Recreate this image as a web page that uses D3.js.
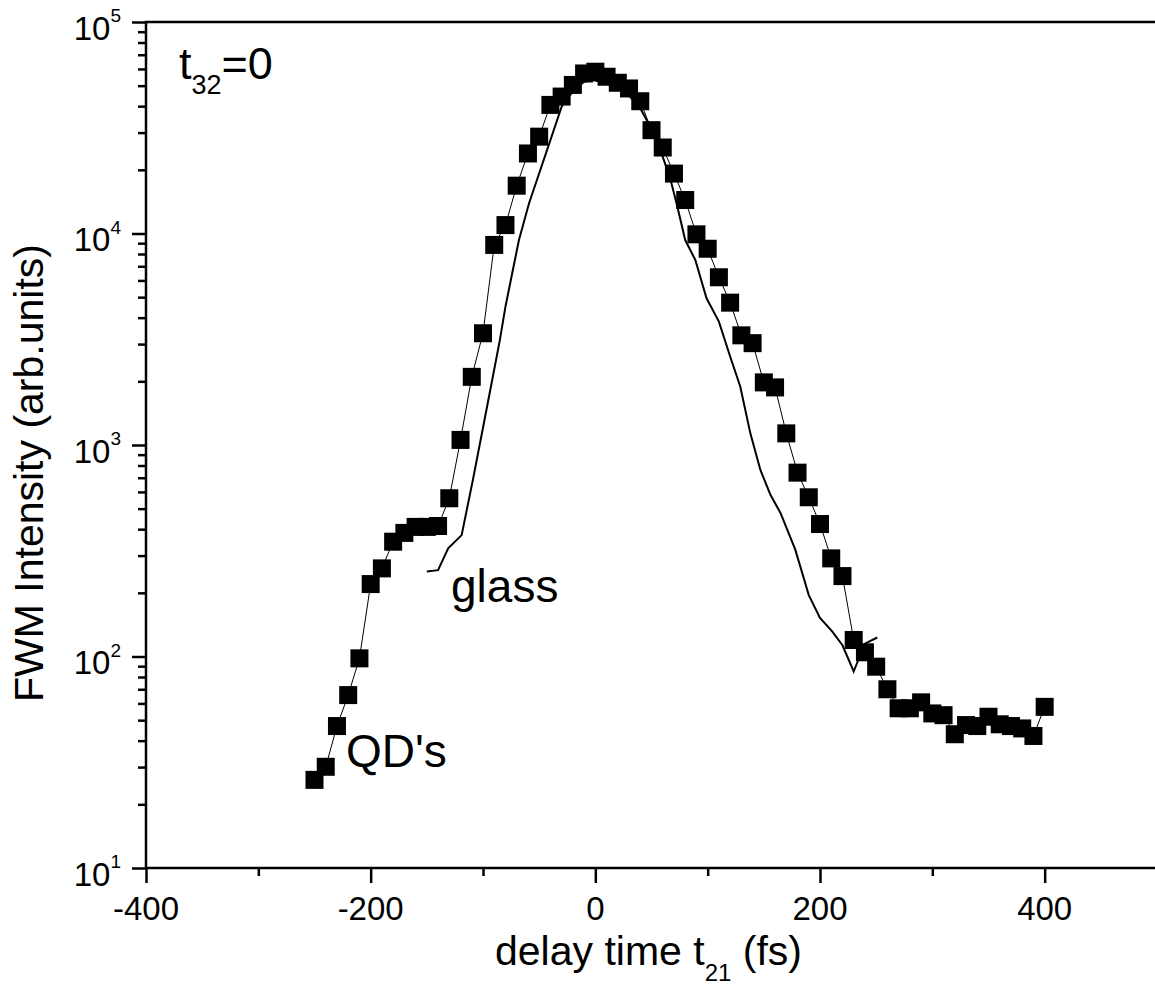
<!DOCTYPE html>
<html>
<head>
<meta charset="utf-8">
<script src="https://cdn.jsdelivr.net/npm/d3@7"></script>
<style>
  body { margin: 0; background: #fff; }
  text { font-family: "Liberation Sans", Arial, sans-serif; fill: #000; }
</style>
</head>
<body>
<div id="chart"></div>
<script>
// QD's data (squares), delay t21 in fs
var qdT = [-250, -240, -230, -220, -210, -200, -190, -180, -170, -160, -150, -140, -130, -120, -110, -100,
           -90, -80, -70, -60, -50, -40, -30, -20, -10, 0, 10, 20, 30, 40, 50, 60, 70, 80, 90, 100,
           110, 120, 130, 140, 150, 160, 170, 180, 190, 200, 210, 220, 230, 240, 250, 260, 270, 280,
           290, 300, 310, 320, 330, 340, 350, 360, 370, 380, 390, 400];
var qdV = [26.1, 30.1, 46.9, 65.7, 98, 220, 261, 349, 384, 410, 410, 414, 560, 1057, 2100, 3375,
           8830, 10960, 16830, 23900, 28700, 40550, 44400, 50400, 57100, 58200, 55100, 51600, 48500, 42200, 30800, 25500, 19200, 14400, 9910, 8470,
           6210, 4710, 3300, 3030, 1977, 1872, 1135, 740, 566, 423, 291, 240, 119.7, 104.7, 89.5, 70, 56.9, 56.9,
           60.7, 53.8, 52.8, 42.9, 47.4, 46.9, 51.9, 47.8, 46.9, 45.7, 42.1, 57.8];

// glass reference (solid line)
var glassT = [-150, -140, -131, -119, -109, -97, -85, -80, -74, -68, -59, -52, -43, -30, -19, -10, -2,
              10, 22, 31, 40, 49, 58, 67, 73, 80, 89, 99, 110, 120, 129, 138, 147, 156, 165, 178, 190,
              200, 211, 220, 230, 234, 240, 251];
var glassV = [252, 256, 325, 375, 684, 1460, 3130, 4510, 6490, 9310, 13900, 17900, 24800, 39800, 47700, 52200, 53200,
              51300, 47700, 44300, 39100, 32000, 24800, 17900, 13400, 9310, 7500, 4940, 3830, 2620, 1890, 1135, 760, 580, 475, 320, 195,
              152, 131, 113, 85, 96, 115, 123];

var xMajor = [-400, -200, 0, 200, 400];
var xMinor = [-300, -100, 100, 300];
var yMajor = [10, 100, 1000, 10000, 100000];
var yExp = ["1", "2", "3", "4", "5"];

var W = 1155, H = 985;
var svg = d3.select("#chart").append("svg")
    .attr("width", W).attr("height", H);

var x = d3.scaleLinear().domain([-400, 500]).range([146, 1157]);
var y = d3.scaleLog().domain([10, 100000]).range([868, 22]);

// minor y ticks 2..9 per decade
var yMinor = [];
yMajor.slice(0, -1).forEach(function(d) {
  for (var k = 2; k <= 9; k++) yMinor.push(d * k);
});

// x axis ticks
svg.append("g")
  .attr("transform", "translate(0,868)")
  .call(d3.axisBottom(x).tickValues(xMajor).tickSize(15).tickSizeOuter(0).tickFormat(""))
  .call(function(g) { g.select(".domain").remove(); })
  .selectAll("line").attr("stroke-width", 2.5);
svg.append("g")
  .attr("transform", "translate(0,868)")
  .call(d3.axisBottom(x).tickValues(xMinor).tickSize(8).tickSizeOuter(0).tickFormat(""))
  .call(function(g) { g.select(".domain").remove(); })
  .selectAll("line").attr("stroke-width", 2.5);

// y axis ticks
svg.append("g")
  .attr("transform", "translate(146,0)")
  .call(d3.axisLeft(y).tickValues(yMajor).tickSize(14).tickSizeOuter(0).tickFormat(""))
  .call(function(g) { g.select(".domain").remove(); })
  .selectAll("line").attr("stroke-width", 2.5);
svg.append("g")
  .attr("transform", "translate(146,0)")
  .call(d3.axisLeft(y).tickValues(yMinor).tickSize(8).tickSizeOuter(0).tickFormat(""))
  .call(function(g) { g.select(".domain").remove(); })
  .selectAll("line").attr("stroke-width", 2.5);

// frame
svg.append("rect")
  .attr("x", x(-400)).attr("y", y(100000))
  .attr("width", x(500) - x(-400)).attr("height", y(10) - y(100000))
  .attr("fill", "none").attr("stroke", "#000").attr("stroke-width", 2.5);

// x tick labels
svg.selectAll(".xl").data(xMajor).enter().append("text")
  .attr("class", "xl")
  .attr("x", function(d) { return x(d); })
  .attr("y", 920)
  .attr("text-anchor", "middle")
  .style("font-size", "33px")
  .text(function(d) { return d; });

// y tick labels 10^n
var yl = svg.selectAll(".yl").data(yMajor).enter().append("text")
  .attr("class", "yl")
  .attr("x", 121)
  .attr("y", function(d) { return y(d) + 17.5; })
  .attr("text-anchor", "end")
  .style("font-size", "33px");
yl.append("tspan").text("10");
yl.append("tspan").attr("dy", -17.5).style("font-size", "19px")
  .text(function(d, i) { return yExp[i]; });

// axis titles
svg.append("text")
  .attr("transform", "translate(43,473) rotate(-90)")
  .attr("text-anchor", "middle")
  .style("font-size", "41px")
  .text("FWM Intensity (arb.units)");

var xt = svg.append("text")
  .attr("x", 495).attr("y", 965)
  .style("font-size", "41px");
xt.append("tspan").text("delay time t");
xt.append("tspan").attr("dy", 16).style("font-size", "24px").text("21");
xt.append("tspan").attr("dy", -16).text(" (fs)");

// glass line
var line = d3.line()
  .x(function(d) { return x(d[0]); })
  .y(function(d) { return y(d[1]); });

svg.append("path")
  .datum(glassT.map(function(t, i) { return [t, glassV[i]]; }))
  .attr("d", line)
  .attr("fill", "none").attr("stroke", "#000").attr("stroke-width", 2);

// QD connecting line + squares
var qd = qdT.map(function(t, i) { return [t, qdV[i]]; });
svg.append("path")
  .datum(qd)
  .attr("d", line)
  .attr("fill", "none").attr("stroke", "#000").attr("stroke-width", 1);

var sq = 18;
svg.selectAll(".sq").data(qd).enter().append("rect")
  .attr("class", "sq")
  .attr("x", function(d) { return x(d[0]) - sq / 2; })
  .attr("y", function(d) { return y(d[1]) - sq / 2; })
  .attr("width", sq).attr("height", sq)
  .attr("fill", "#000");

// annotations
var tl = svg.append("text").attr("x", 179).attr("y", 79).style("font-size", "45px");
tl.append("tspan").text("t");
tl.append("tspan").attr("dy", 15).style("font-size", "27px").text("32");
tl.append("tspan").attr("dy", -15).text("=0");

svg.append("text").attr("x", 451).attr("y", 602).style("font-size", "46px").text("glass");
svg.append("text").attr("x", 346).attr("y", 767).style("font-size", "46px").text("QD's");
</script>
</body>
</html>
